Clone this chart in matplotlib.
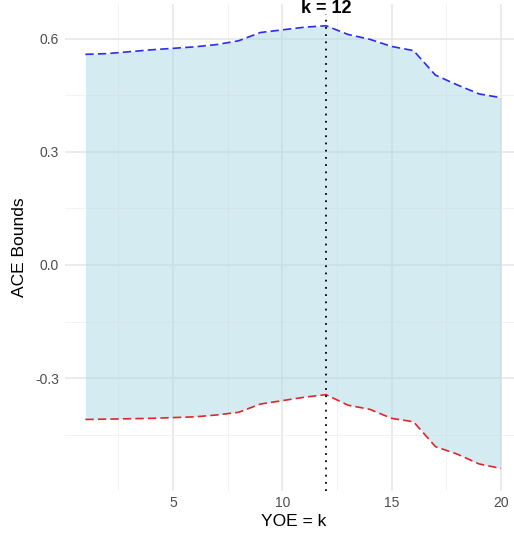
"""ACE bounds by years of experience threshold k
"""
import matplotlib as mpl
import matplotlib.pyplot as plt
import numpy as np

mpl.rcParams['font.family'] = 'Liberation Sans'

# data
yoe_k = np.arange(1, 21)
ace_upper = [0.559, 0.561, 0.566, 0.571, 0.575, 0.579, 0.585, 0.595, 0.617, 0.624,
             0.631, 0.635, 0.612, 0.599, 0.580, 0.569, 0.504, 0.478, 0.454, 0.444]
ace_lower = [-0.410, -0.409, -0.408, -0.407, -0.405, -0.403, -0.398, -0.391, -0.369, -0.360,
             -0.351, -0.344, -0.372, -0.383, -0.407, -0.416, -0.482, -0.502, -0.528, -0.540]
k_best = 12
y_ticks = [-0.3, 0.0, 0.3, 0.6]
x_ticks = [5, 10, 15, 20]

fig = plt.figure(figsize=(5.14, 5.37), dpi=100)
ax = fig.add_axes([64.6 / 514, (537 - 490.6) / 537, 457.2 / 514, 487.0 / 537])

lo = min(ace_lower)
hi = max(ace_upper)
pad = 0.05 * (hi - lo)

ax.fill_between(yoe_k, ace_lower, ace_upper, color='#add8e6', alpha=0.5, lw=0, zorder=2)
ax.plot(yoe_k, ace_upper, color='#2b2bf0', ls=(0, (5, 2.5)), lw=1.2, zorder=3)
ax.plot(yoe_k, ace_lower, color='#e0262b', ls=(0, (5, 2.5)), lw=1.2, zorder=3)
# dotted line stops under the label
ax.plot([k_best, k_best], [lo - pad, 0.666], color='black', ls=(0, (1, 3)), lw=1.3, zorder=4)
ax.text(k_best, 0.669, 'k = {}'.format(k_best), ha='center', va='baseline',
        fontsize=13, fontweight='bold', clip_on=False)

ax.set_ylim(lo - pad, hi + pad)
ax.set_xlim(1 - 0.05 * 19, 20 + 0.05 * 19)

ax.set_xticks(x_ticks)
ax.set_yticks(y_ticks)
ax.set_yticklabels(['{:.1f}'.format(v) for v in y_ticks])
ax.set_xticks([2.5, 7.5, 12.5, 17.5], minor=True)
ax.set_yticks([-0.45, -0.15, 0.15, 0.45], minor=True)
ax.grid(True, which='major', color='#e6e6e6', lw=1.1, zorder=0)
ax.grid(True, which='minor', color='#f0f0f0', lw=0.6, zorder=0)
ax.set_axisbelow(True)
for s in ax.spines.values():
    s.set_visible(False)
ax.tick_params(which='both', length=0, labelsize=10, labelcolor='#4d4d4d', pad=4)

ax.set_xlabel('YOE = k', fontsize=12.5, labelpad=3)
ax.set_ylabel('ACE Bounds', fontsize=12.5, labelpad=6)

plt.savefig('out.png', dpi=100)
plt.close()
